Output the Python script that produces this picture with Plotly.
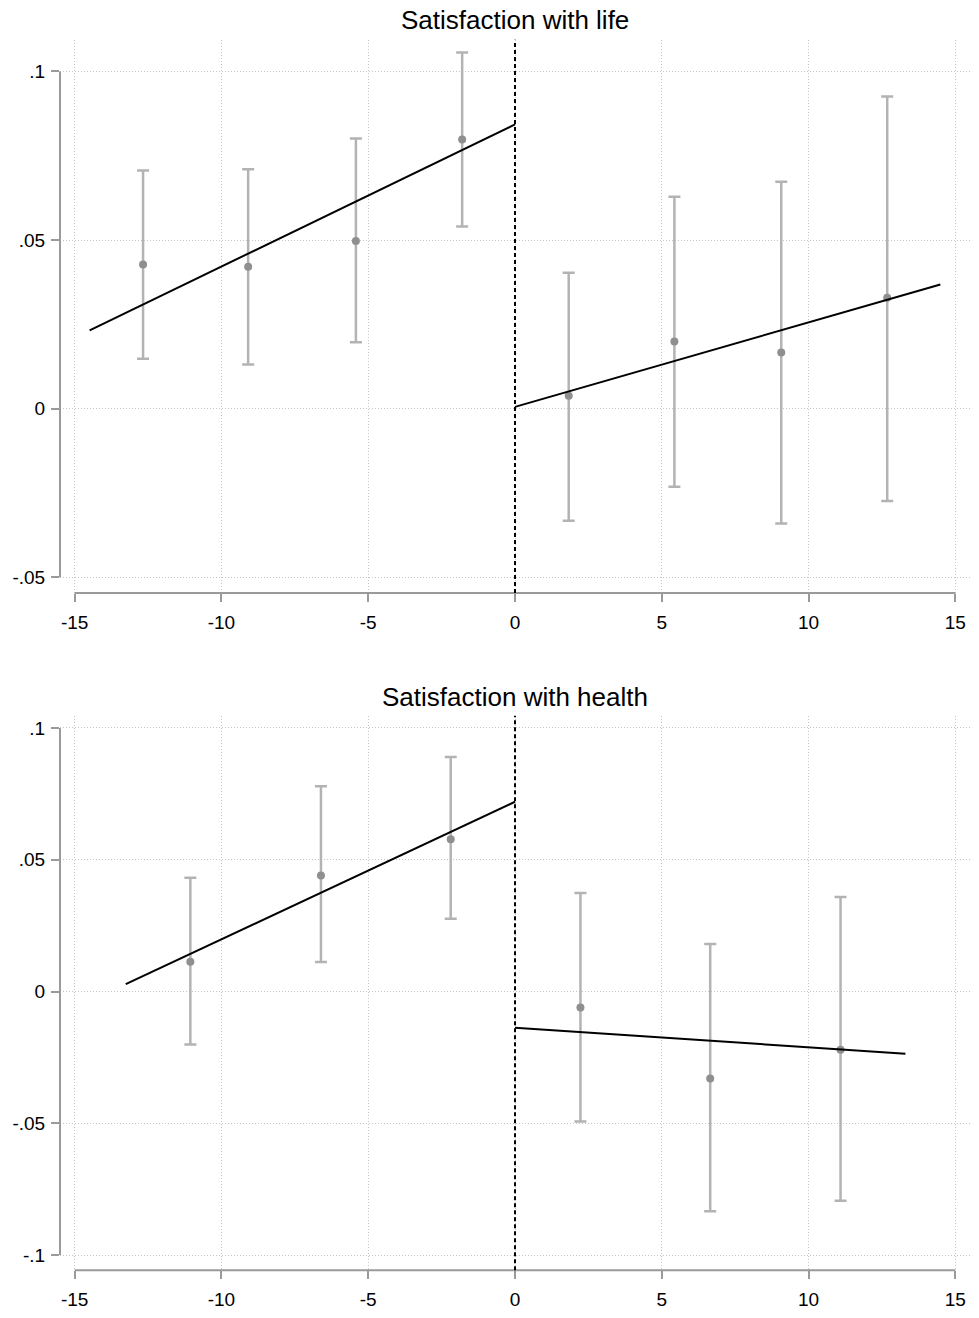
import plotly.graph_objects as go

# ---------------- data ----------------
# Panel 1: Satisfaction with life
life_x = [-12.67, -9.09, -5.42, -1.80, 1.83, 5.43, 9.07, 12.68]
life_y = [0.0427, 0.0421, 0.0497, 0.0798, 0.0038, 0.0199, 0.0166, 0.0329]
life_hi = [0.0706, 0.0710, 0.0801, 0.1056, 0.0403, 0.0628, 0.0673, 0.0926]
life_lo = [0.0148, 0.0131, 0.0197, 0.0540, -0.0333, -0.0232, -0.0341, -0.0274]
life_fit_left_x = [-14.49, 0]
life_fit_left_y = [0.0232, 0.0843]
life_fit_right_x = [0, 14.49]
life_fit_right_y = [0.0005, 0.0368]

# Panel 2: Satisfaction with health
health_x = [-11.06, -6.61, -2.19, 2.23, 6.65, 11.09]
health_y = [0.0113, 0.0440, 0.0578, -0.0061, -0.0330, -0.0221]
health_hi = [0.0432, 0.0779, 0.0890, 0.0374, 0.0180, 0.0359]
health_lo = [-0.0201, 0.0112, 0.0276, -0.0493, -0.0834, -0.0794]
health_fit_left_x = [-13.26, 0]
health_fit_left_y = [0.0028, 0.0720]
health_fit_right_x = [0, 13.3]
health_fit_right_y = [-0.0137, -0.0236]

titles = ["Satisfaction with life", "Satisfaction with health"]
x_ticks = [-15, -10, -5, 0, 5, 10, 15]
x_ticktext = ["-15", "-10", "-5", "0", "5", "10", "15"]
life_yticks = [0.1, 0.05, 0, -0.05]
life_yticktext = [".1", ".05", "0", "-.05"]
health_yticks = [0.1, 0.05, 0, -0.05, -0.1]
health_yticktext = [".1", ".05", "0", "-.05", "-.1"]

# ---------------- style ----------------
OFF = 8                      # default page body margin
W, H = 979 - 2 * OFF, 1318 - 2 * OFF
FONT = "Liberation Sans, Arial, sans-serif"
BAR_COL = "#b3b3b3"
DOT_COL = "#8f8f8f"
AXIS_COL = "#9a9a9a"
GRID_COL = "#c4c4c4"


def px(v):
    return v - OFF


fig = go.Figure()


def add_panel(xs, ys, hi, lo, fits, xa, ya):
    fig.add_trace(go.Scatter(
        x=xs, y=ys, mode="markers", xaxis=xa, yaxis=ya,
        marker=dict(color=DOT_COL, size=8),
        error_y=dict(type="data", symmetric=False,
                     array=[h - y for h, y in zip(hi, ys)],
                     arrayminus=[y - l for y, l in zip(ys, lo)],
                     color=BAR_COL, thickness=2.5, width=6),
        showlegend=False, hoverinfo="skip"))
    for fx, fy in fits:
        fig.add_trace(go.Scatter(
            x=fx, y=fy, mode="lines", xaxis=xa, yaxis=ya,
            line=dict(color="black", width=2),
            showlegend=False, hoverinfo="skip"))


add_panel(life_x, life_y, life_hi, life_lo,
          [(life_fit_left_x, life_fit_left_y), (life_fit_right_x, life_fit_right_y)],
          "x", "y")
add_panel(health_x, health_y, health_hi, health_lo,
          [(health_fit_left_x, health_fit_left_y), (health_fit_right_x, health_fit_right_y)],
          "x2", "y2")

xdom = [px(60) / W, px(970) / W]
top_dom = [1 - px(598) / H, 1 - px(40) / H]
bot_dom = [1 - px(1281) / H, 1 - px(721.7) / H]

common_x = dict(range=[-15.5, 15.5], tickmode="array", tickvals=x_ticks, ticktext=x_ticktext,
                showgrid=True, gridcolor=GRID_COL, griddash="1px,2px", gridwidth=1,
                zeroline=False, showline=False, ticks="outside", ticklen=8,
                tickwidth=2, tickcolor=AXIS_COL, ticklabelstandoff=4,
                tickfont=dict(family=FONT, size=19, color="black"), domain=xdom, fixedrange=True)
common_y = dict(tickmode="array", showgrid=True, gridcolor=GRID_COL, griddash="1px,2px", gridwidth=1,
                zeroline=False, showline=False, ticks="outside", ticklen=8,
                tickwidth=2, tickcolor=AXIS_COL, ticklabelstandoff=2,
                tickfont=dict(family=FONT, size=19, color="black"), fixedrange=True)

fig.update_layout(
    width=W, height=H, margin=dict(l=0, r=0, t=0, b=0),
    paper_bgcolor="white", plot_bgcolor="white",
    xaxis=dict(common_x, anchor="y"),
    xaxis2=dict(common_x, anchor="y2"),
    yaxis=dict(common_y, range=[-0.05471, 0.10941], tickvals=life_yticks,
               ticktext=life_yticktext, domain=top_dom, anchor="x"),
    yaxis2=dict(common_y, range=[-0.10576, 0.10467], tickvals=health_yticks,
                ticktext=health_yticktext, domain=bot_dom, anchor="x2"),
    font=dict(family=FONT, color="black"),
)

shapes = []
for xa, ya, ylo, yhi in [("x", "y", -0.05, 0.1), ("x2", "y2", -0.1, 0.1)]:
    # y axis line (spans tick range only)
    shapes.append(dict(type="line", xref=f"{xa} domain", yref=ya, x0=0, x1=0, y0=ylo, y1=yhi,
                       line=dict(color=AXIS_COL, width=2), layer="above"))
    # x axis line
    shapes.append(dict(type="line", xref=xa, yref=f"{ya} domain", x0=-15, x1=15, y0=0, y1=0,
                       line=dict(color=AXIS_COL, width=2), layer="above"))
    # cutoff line
    shapes.append(dict(type="line", xref=xa, yref=f"{ya} domain", x0=0, x1=0, y0=0, y1=1,
                       line=dict(color="black", width=2, dash="4px,3px"), layer="above"))
fig.update_layout(shapes=shapes)

fig.add_annotation(text=titles[0], xref="paper", yref="paper", x=px(515) / W, y=1 - px(20) / H,
                   xanchor="center", yanchor="middle", showarrow=False,
                   font=dict(family=FONT, size=26, color="black"))
fig.add_annotation(text=titles[1], xref="paper", yref="paper", x=px(515) / W, y=1 - px(703) / H,
                   xanchor="center", yanchor="middle", showarrow=False,
                   font=dict(family=FONT, size=26, color="black"))

fig.write_html("out.html")
